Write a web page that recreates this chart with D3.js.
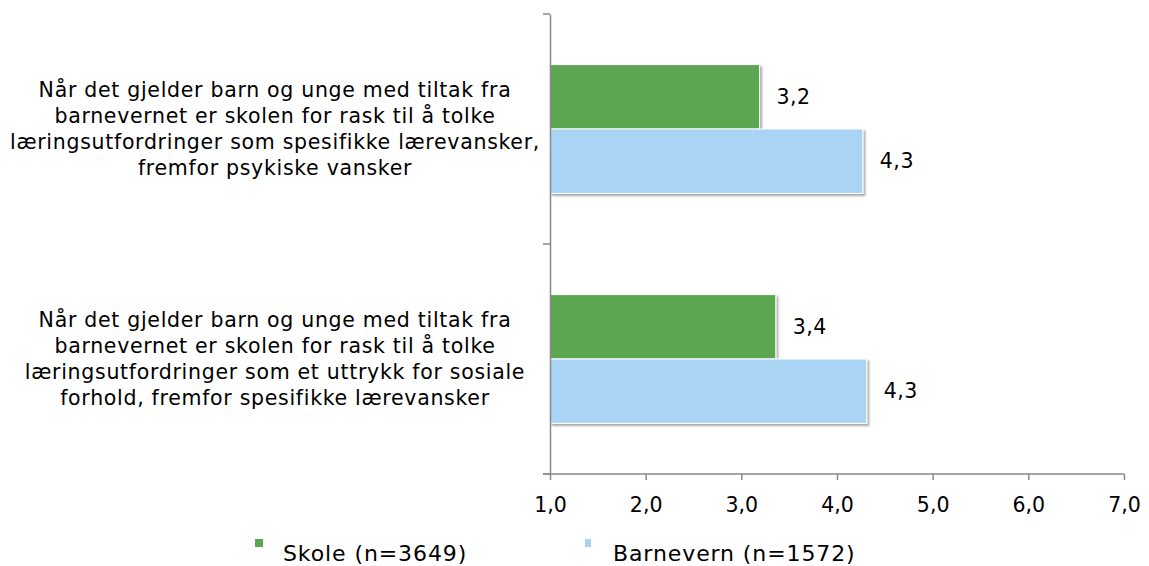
<!DOCTYPE html>
<html>
<head>
<meta charset="utf-8">
<script src="https://cdn.jsdelivr.net/npm/d3@7"></script>
<style>
  body { margin: 0; background: #fff; }
  svg text { font-family: "DejaVu Sans", Verdana, sans-serif; fill: #000; }
</style>
</head>
<body>
<svg id="chart" width="1149" height="566"></svg>
<script>
// data
var categories = [
  ["Når det gjelder barn og unge med tiltak fra",
   "barnevernet er skolen for rask til å tolke",
   "læringsutfordringer som spesifikke lærevansker,",
   "fremfor psykiske vansker"],
  ["Når det gjelder barn og unge med tiltak fra",
   "barnevernet er skolen for rask til å tolke",
   "læringsutfordringer som et uttrykk for sosiale",
   "forhold, fremfor spesifikke lærevansker"]
];
var seriesNames = ["Skole (n=3649)", "Barnevern (n=1572)"];
var skole = [3.19, 3.36];
var barnevern = [4.27, 4.31];
var tickValues = [1, 2, 3, 4, 5, 6, 7];
var colors = ["#5ba651", "#a9d4f3"];

var fontSize = "20.5px";

var svg = d3.select("#chart");
var margin = {top: 14, left: 550, right: 25, bottom: 92};
var width = 1149 - margin.left - margin.right,
    height = 566 - margin.top - margin.bottom;

var defs = svg.append("defs");
var f = defs.append("filter").attr("id", "shadow")
  .attr("x", "-5%").attr("y", "-10%").attr("width", "115%").attr("height", "130%");
f.append("feDropShadow").attr("dx", 2).attr("dy", 2).attr("stdDeviation", 1.2)
  .attr("flood-color", "#000").attr("flood-opacity", 0.35);

var g = svg.append("g").attr("transform", "translate(" + margin.left + "," + margin.top + ")");

var x = d3.scaleLinear().domain([1, 7]).range([0, width]);
var y = d3.scaleBand().domain([0, 1]).range([0, height]).paddingInner(0).paddingOuter(0);
var ySub = d3.scaleBand().domain([0, 1]).range([0, y.bandwidth() * 0.56]).padding(0);

var data = [];
for (var i = 0; i < categories.length; i++) {
  data.push({cat: i, s: 0, value: skole[i]});
  data.push({cat: i, s: 1, value: barnevern[i]});
}

var off = (y.bandwidth() - y.bandwidth() * 0.56) / 2;

g.selectAll("rect.bar")
  .data(data)
  .enter()
  .append("rect")
    .attr("class", "bar")
    .attr("x", x(1))
    .attr("y", function(d) { return y(d.cat) + off + ySub(d.s); })
    .attr("width", function(d) { return x(d.value) - x(1); })
    .attr("height", ySub.bandwidth())
    .attr("fill", function(d) { return colors[d.s]; })
    .attr("stroke", "#fff")
    .attr("stroke-width", 1)
    .attr("filter", "url(#shadow)");

g.selectAll("text.val")
  .data(data)
  .enter()
  .append("text")
    .attr("class", "val")
    .attr("x", function(d) { return x(d.value) + 17; })
    .attr("y", function(d) { return y(d.cat) + off + ySub(d.s) + ySub.bandwidth() / 2; })
    .attr("dy", "0.35em")
    .style("font-size", fontSize)
    .style("letter-spacing", "0.5px")
    .text(function(d) { return d.value.toFixed(1).replace(".", ","); });

// x axis
var xAxis = g.append("g")
  .attr("transform", "translate(0," + height + ")")
  .call(d3.axisBottom(x).tickValues(tickValues).tickSize(6).tickSizeOuter(0)
    .tickFormat(function(d) { return d.toFixed(1).replace(".", ","); }));
xAxis.select(".domain").attr("stroke", "#898989").attr("stroke-width", 1.5).attr("d", "M-7,0H" + width);
xAxis.selectAll(".tick line").attr("stroke", "#898989").attr("stroke-width", 1.5);
xAxis.selectAll(".tick text").style("font-size", fontSize).attr("y", 31).attr("dy", "0.35em");

// y axis
var yAxis = g.append("g")
  .call(d3.axisLeft(y).tickValues([]).tickSizeOuter(0));
yAxis.select(".domain").attr("stroke", "#898989").attr("stroke-width", 1.5);
yAxis.selectAll(".ytick")
  .data([0, height / 2, height])
  .enter()
  .append("line")
    .attr("class", "ytick")
    .attr("x1", -7).attr("x2", 0)
    .attr("y1", function(d) { return d; }).attr("y2", function(d) { return d; })
    .attr("stroke", "#898989").attr("stroke-width", 1.5);

// category labels
var lineH = 26;
var catG = g.selectAll("text.cat")
  .data(categories)
  .enter()
  .append("text")
    .attr("class", "cat")
    .attr("text-anchor", "middle")
    .style("font-size", fontSize)
    .style("letter-spacing", "0.7px")
    .attr("transform", function(d, i) {
      return "translate(" + (275 - margin.left) + "," + (y(i) + y.bandwidth() / 2) + ")";
    });
catG.selectAll("tspan")
  .data(function(d) { return d; })
  .enter()
  .append("tspan")
    .attr("x", 0)
    .attr("y", function(d, i, n) { return (i - (n.length - 1) / 2) * lineH; })
    .attr("dy", "0.35em")
    .text(function(d) { return d; });

// legend
var legend = svg.append("g");
var legX = [255, 585], legW = [8, 6];
seriesNames.forEach(function(name, i) {
  legend.append("rect")
    .attr("x", legX[i]).attr("y", 539)
    .attr("width", legW[i]).attr("height", 8)
    .attr("fill", colors[i]);
  legend.append("text")
    .attr("x", legX[i] + 28).attr("y", 553)
    .attr("dy", "0.35em")
    .style("font-size", "22px")
    .style("letter-spacing", "0.9px")
    .text(name);
});
</script>
</body>
</html>
